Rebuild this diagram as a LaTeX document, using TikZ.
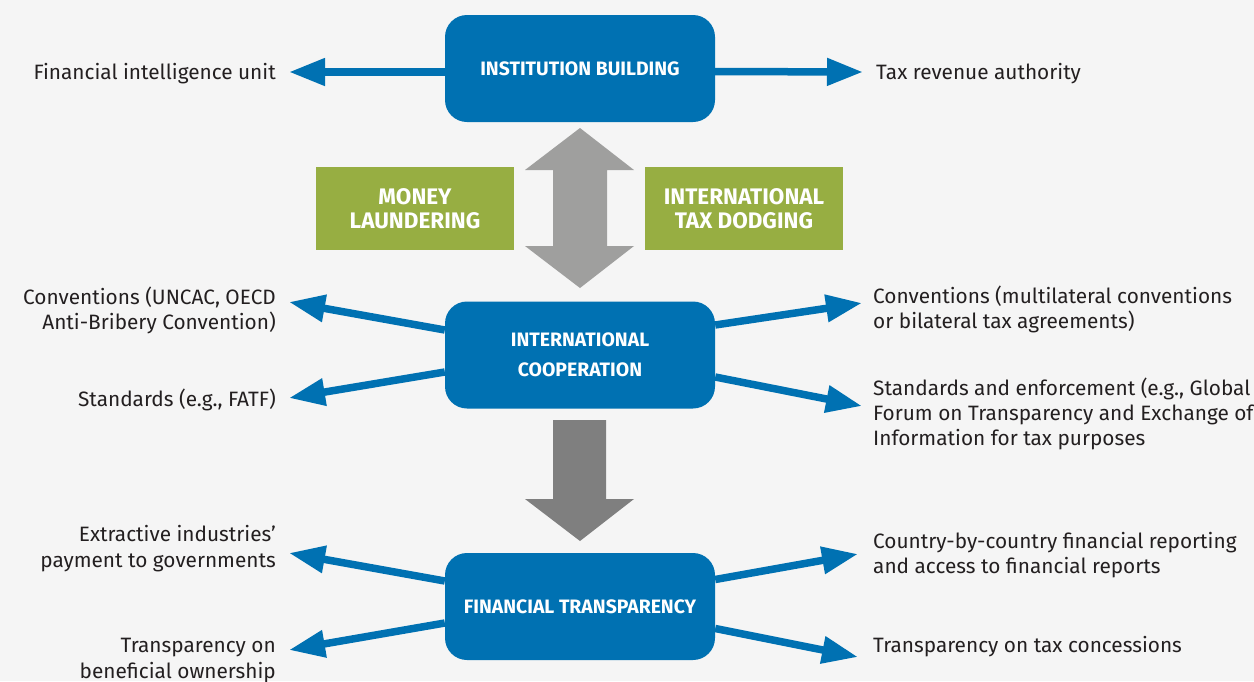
\documentclass[tikz,border=0pt]{standalone}
\usepackage{fontspec}
\setmainfont{Fira Sans}
\usetikzlibrary{arrows.meta,calc}
\definecolor{bg}{HTML}{F5F5F5}
\definecolor{boxblue}{HTML}{0071B2}
\definecolor{boxgreen}{HTML}{97AE42}
\definecolor{lgrey}{HTML}{9F9F9E}
\definecolor{dgrey}{HTML}{7F7F7F}
\definecolor{txt}{HTML}{231F20}
\tikzset{
  x=1pt, y=-1pt,
  bluebox/.style={fill=boxblue, rounded corners=22pt, minimum width=270pt, minimum height=107pt,
    text=white, font=\fontsize{19.4}{30}\selectfont\bfseries, align=center, inner sep=0pt},
  greenbox/.style={fill=boxgreen, minimum width=198pt, minimum height=83pt,
    text=white, font=\fontsize{22.5}{24.5}\selectfont\bfseries, align=center, inner sep=0pt},
  lbl/.style={text=txt, font=\fontsize{20.8}{25.2}\selectfont, inner sep=0pt},
  lleft/.style={lbl, anchor=east, align=right},
  lright/.style={lbl, anchor=west, align=left},
  conn/.style={draw=boxblue, line width=7.5pt, -{Triangle[length=36pt,width=26pt]}},
}
\begin{document}
\begin{tikzpicture}
\fill[bg] (0,0) rectangle (1254,681);
\useasboundingbox (0,0) rectangle (1254,681);

% grey double arrow
\fill[lgrey] (580,128) -- (634,170) -- (607,170) -- (607,246) -- (634,246) -- (580,288)
  -- (525,246) -- (553,246) -- (553,170) -- (525,170) -- cycle;
% dark grey down arrow
\fill[dgrey] (553,420) -- (606,420) -- (606,499) -- (634,499) -- (580,541) -- (525,499) -- (553,499) -- cycle;

\node[bluebox] (b1) at (580,68.5) {INSTITUTION BUILDING};
\node[bluebox] (b2) at (580,355) {INTERNATIONAL\\COOPERATION};
\node[bluebox] (b3) at (580,606.5) {FINANCIAL TRANSPARENCY};

\node[greenbox] (g1) at (415,208.5) {MONEY\\LAUNDERING};
\node[greenbox] (g2) at (744,208.5) {INTERNATIONAL\\TAX DODGING};

% labels
\node[lleft] (t1) at (276,73.5) {Financial intelligence unit};
\node[lright] (t2) at (876,73.5) {Tax revenue authority};
\node[lleft] (t3) at (276,310.5) {Conventions (UNCAC, OECD\\Anti-Bribery Convention)};
\node[lleft] (t4) at (276,399.5) {Standards (e.g., FATF)};
\node[lright] (t5) at (873,309.5) {Conventions (multilateral conventions\\or bilateral tax agreements)};
\node[lright] (t6) at (873,414) {Standards and enforcement (e.g., Global\\Forum on Transparency and Exchange of\\Information for tax purposes};
\node[lleft] (t7) at (276,548.5) {Extractive industries’\\payment to governments};
\node[lleft] (t8) at (276,660.5) {Transparency on\\beneficial ownership};
\node[lright] (t9) at (873,555) {Country-by-country financial reporting\\and access to financial reports};
\node[lright] (t10) at (873,646.5) {Transparency on tax concessions};

% arrow tips
\coordinate (p1) at (289,72);
\coordinate (p2) at (863,72);
\coordinate (p3) at (289,302);
\coordinate (p4) at (289,398);
\coordinate (p5) at (862,303);
\coordinate (p6) at (862,406);
\coordinate (p7) at (289,553);
\coordinate (p8) at (289,650);
\coordinate (p9) at (858,554);
\coordinate (p10) at (858,657);

\draw[conn] ([yshift=-3.5pt]b1.west) -- (p1);
\draw[conn] ([yshift=-3pt]b1.east) -- (p2);
\draw[conn] ([yshift=25pt]b2.west) -- (p3);
\draw[conn] ([yshift=-17pt]b2.west) -- (p4);
\draw[conn] ([yshift=30pt]b2.east) -- (p5);
\draw[conn] ([yshift=-22pt]b2.east) -- (p6);
\draw[conn] ([yshift=25.5pt]b3.west) -- (p7);
\draw[conn] ([yshift=-16.5pt]b3.west) -- (p8);
\draw[conn] ([yshift=27pt]b3.east) -- (p9);
\draw[conn] ([yshift=-22pt]b3.east) -- (p10);
\end{tikzpicture}
\end{document}
